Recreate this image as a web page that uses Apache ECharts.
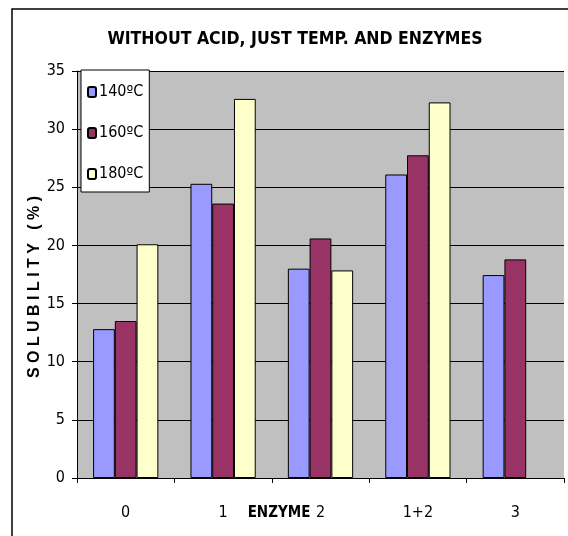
<!DOCTYPE html>
<html>
<head>
<meta charset="utf-8">
<script src="https://cdn.jsdelivr.net/npm/echarts@6/dist/echarts.min.js"></script>
<style>
  html, body { margin: 0; padding: 0; background: #fff; }
  #chart { width: 568px; height: 536px; }
</style>
</head>
<body>
<div id="chart"></div>
<script>
const enzymes = ["0", "1", "2", "1+2", "3"];
const temps = ["140ºC", "160ºC", "180ºC"];
const sol140 = [12.8, 25.3, 18.0, 26.1, 17.45];
const sol160 = [13.5, 23.6, 20.6, 27.75, 18.8];
const sol180 = [20.1, 32.6, 17.85, 32.3, null];
const yTicks = [0, 5, 10, 15, 20, 25, 30, 35];

const narrow = "'Liberation Sans Narrow', 'DejaVu Sans Condensed', sans-serif";
const colors = ["#9999FF", "#993366", "#FFFFCC"];
const values = [sol140, sol160, sol180];

const chart = echarts.init(document.getElementById("chart"));

const option = {
  animation: false,
  backgroundColor: "#fff",
  title: {
    text: "WITHOUT ACID, JUST TEMP. AND ENZYMES",
    left: 290,
    top: 25,
    textAlign: "center",
    textStyle: { fontFamily: narrow, fontWeight: "bold", fontSize: 17.5, color: "#000" }
  },
  graphic: [{
    type: "rect",
    shape: { x: 12, y: 9, width: 700, height: 700 },
    style: { fill: "none", stroke: "#000", lineWidth: 1.5 },
    silent: true
  }],
  grid: {
    left: 77, right: 4, top: 71, bottom: 58,
    outerBoundsMode: "none",
    containLabel: false,
    show: true, backgroundColor: "#C0C0C0", borderWidth: 0
  },
  legend: {
    data: temps,
    orient: "vertical",
    left: 81,
    top: 70,
    padding: [12, 6, 8, 6],
    itemWidth: 8,
    itemHeight: 10,
    itemGap: 21,
    backgroundColor: "#fff",
    borderColor: "#000",
    borderWidth: 1,
    textStyle: { fontFamily: narrow, fontSize: 16, color: "#000", lineHeight: 20, padding: [0, 0, 0, -2] }
  },
  xAxis: {
    type: "category",
    data: enzymes,
    name: "ENZYME",
    nameLocation: "middle",
    nameMoveOverlap: false,
    nameGap: 28,
    nameTextStyle: { fontFamily: narrow, fontWeight: "bold", fontSize: 15, color: "#000", padding: [0, 83, 0, 0] },
    axisLine: { lineStyle: { color: "#000", width: 1 } },
    axisTick: { show: true, lineStyle: { color: "#000" }, length: 5 },
    axisLabel: { fontFamily: narrow, fontSize: 16, color: "#000", margin: 27 }
  },
  yAxis: {
    type: "value",
    min: 0,
    max: yTicks[yTicks.length - 1],
    interval: yTicks[1] - yTicks[0],
    name: "S O L U B I L I T Y   ( % )",
    nameLocation: "middle",
    nameMoveOverlap: false,
    nameGap: 34,
    nameRotate: 90,
    nameTextStyle: { fontFamily: "'Liberation Sans', Arial, sans-serif", fontWeight: "bold", fontSize: 16, color: "#000", padding: [0, 25, 0, 0] },
    axisLine: { show: true, lineStyle: { color: "#000", width: 1 } },
    axisTick: { show: true, lineStyle: { color: "#000" }, length: 5 },
    axisLabel: { fontFamily: narrow, fontSize: 16, color: "#000", margin: 12 },
    splitLine: { lineStyle: { color: "#000", width: 1 } }
  },
  series: temps.map((t, i) => ({
    name: t,
    type: "bar",
    data: values[i],
    barGap: 0,
    barCategoryGap: "33%",
    itemStyle: { color: colors[i], borderColor: "#000", borderWidth: 1 }
  }))
};

chart.setOption(option);
</script>
</body>
</html>
